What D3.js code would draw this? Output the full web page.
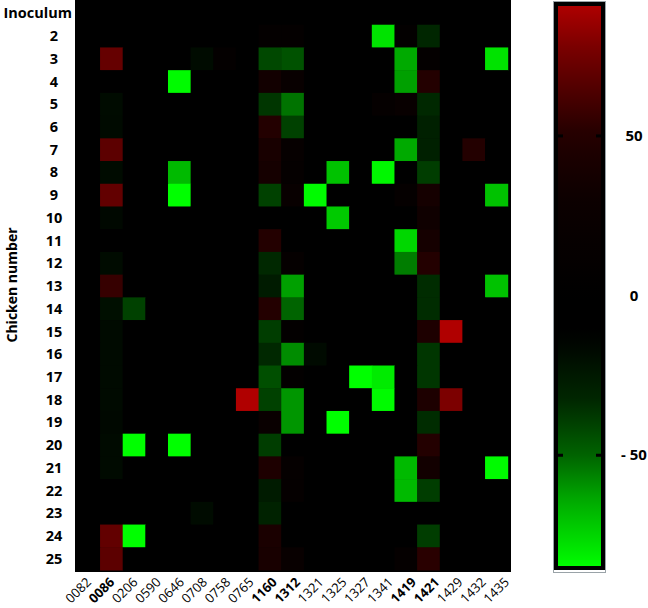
<!DOCTYPE html>
<html>
<head>
<meta charset="utf-8">
<script src="https://cdn.jsdelivr.net/npm/d3@7"></script>
<style>
  body { margin: 0; background: #fff; }
  text { font-family: "Open Sans", sans-serif; }
</style>
</head>
<body>
<svg id="chart" width="648" height="608"></svg>
<script>
var strains = ["0082","0086","0206","0590","0646","0708","0758","0765","1160","1312",
               "1321","1325","1327","1341","1419","1421","1429","1432","1435"];
var boldStrains = ["0086","1160","1312","1419","1421"];
var chickens = ["Inoculum","2","3","4","5","6","7","8","9","10","11","12","13",
                "14","15","16","17","18","19","20","21","22","23","24","25"];
var legendTicks = [50, 0, -50];

// one row per chicken, one value per strain (same order as strains)
var values = [
  [0,   0,   0, 0,   0,   0, 0,  0,   0,   0,   0,   0,   0,   0,   0,   0,  0,  0,   0],
  [0,   0,   0, 0,   0,   0, 0,  0,  10,  10,   0,   0,   0, -78,   8, -32,  0,  0,   0],
  [0,  71,   0, 0,   0, -18, 10, 0, -42, -45,   0,   0,   0,   0, -64,  10,  0,  0, -78],
  [0,   0,   0, 0, -84,   0, 0,  0,  35,  20,   0,   0,   0,   0, -62,  50,  0,  0,   0],
  [0, -18,   0, 0,   0,   0, 0,  0, -37, -53,   0,   0,   0,  12,  20, -33,  0,  0,   0],
  [0, -17,   0, 0,   0,   0, 0,  0,  50, -40,   0,   0,   0,   0,   0, -29,  0,  0,   0],
  [0,  68,   0, 0,   0,   0, 0,  0,  40,  15,   0,   0,   0,   0, -64, -29,  0, 50,   0],
  [0, -18,   0, 0, -68,   0, 0,  0,  38,  12,   0, -70,   0, -83,   0, -39,  0,  0,   0],
  [0,  70,   0, 0, -85,   0, 0,  0, -40,  20, -84,   0,   0,   0,  12,  38,  0,  0, -70],
  [0, -16,   0, 0,   0,   0, 0,  0,   0,   0,   0, -72,   0,   0,   0,  33,  0,  0,   0],
  [0,   0,   0, 0,   0,   0, 0,  0,  50,   0,   0,   0,   0,   0, -75,  38,  0,  0,   0],
  [0, -18,   0, 0,   0,   0, 0,  0, -33,  12,   0,   0,   0,   0, -55,  50,  0,  0,   0],
  [0,  56,   0, 0,   0,   0, 0,  0, -26, -62,   0,   0,   0,   0,   0, -34,  0,  0, -70],
  [0, -20, -40, 0,   0,   0, 0,  0,  50, -50,   0,   0,   0,   0,   0, -34,  0,  0,   0],
  [0, -17,   0, 0,   0,   0, 0,  0, -39,   8,   0,   0,   0,   0,   0,  45, 91,  0,   0],
  [0, -17,   0, 0,   0,   0, 0,  0, -33, -58, -17,   0,   0,   0,   0, -37,  0,  0,   0],
  [0, -17,   0, 0,   0,   0, 0,  0, -44,   8,   0,   0, -86, -80,   0, -37,  0,  0,   0],
  [0, -17,   0, 0,   0,   0, 0, 91, -40, -60,   0,   0,   0, -84,   0,  45, 78,  0,   0],
  [0, -16,   0, 0,   0,   0, 0,  0,  22, -60,   0, -85,   0,   0,   0, -34,  0,  0,   0],
  [0, -17, -86, 0, -86,   0, 0,  0, -39,   0,   0,   0,   0,   0,   0,  50,  0,  0,   0],
  [0, -17,   0, 0,   0,   0, 0,  0,  45,  12,   0,   0,   0,   0, -68,  35,  0,  0, -84],
  [0,   0,   0, 0,   0,   0, 0,  0, -26,  12,   0,   0,   0,   0, -68, -39,  0,  0,   0],
  [0,   0,   0, 0,   0, -18, 0,  0, -30,   0,   0,   0,   0,   0,   0,   0,  0,  0,   0],
  [0,  70, -86, 0,   0,   0, 0,  0,  42,   0,   0,   0,   0,   0,   0, -39,  0,  0,   0],
  [0,  68,   0, 0,   0,   0, 0,  0,  40,  20,   0,   0,   0,   0,  12,  52,  0,  0,   0]
];

var svg = d3.select("#chart");

var x = d3.scaleBand().domain(strains).range([77.4, 507.7]);
var y = d3.scaleBand().domain(chickens).range([2, 570]);
var xLab = d3.scalePoint().domain(strains).range([92, 510]);

var color = d3.scaleLinear()
  .domain([-85, -64, -50, -33, -12, 0, 30, 50, 61, 77, 91])
  .range(["#00ff00","#00aa00","#006400","#002800","#000000","#000000",
          "#0c0000","#230000","#460000","#780000","#b00000"])
  .clamp(true);

// black backdrop
svg.append("rect")
  .attr("x", 75).attr("y", 0)
  .attr("width", 436).attr("height", 572)
  .attr("fill", "#000");

var cells = [];
values.forEach(function(row, i) {
  row.forEach(function(v, j) {
    cells.push({chicken: chickens[i], strain: strains[j], value: v});
  });
});

svg.selectAll("rect.cell")
  .data(cells)
  .enter()
  .append("rect")
  .attr("class", "cell")
  .attr("x", function(d) { return x(d.strain); })
  .attr("y", function(d) { return y(d.chicken); })
  .attr("width", x.bandwidth() + 0.5)
  .attr("height", y.bandwidth() + 0.5)
  .attr("fill", function(d) { return color(d.value); });

// row labels
svg.selectAll("text.rowlab")
  .data(chickens)
  .enter()
  .append("text")
  .attr("class", "rowlab")
  .attr("x", function(d) { return d === "Inoculum" ? 72 : 54; })
  .attr("y", function(d) { return y(d) + y.bandwidth() / 2; })
  .attr("dy", "0.35em")
  .attr("text-anchor", function(d) { return d === "Inoculum" ? "end" : "middle"; })
  .style("font-weight", "bold")
  .attr("font-size", "14.5")
  .attr("fill", "#000")
  .text(function(d) { return d; });

svg.append("text")
  .attr("transform", "translate(12,285) rotate(-90)")
  .attr("text-anchor", "middle")
  .attr("dy", "0.35em")
  .style("font-weight", "bold")
  .attr("font-size", "14")
  .text("Chicken number");

// column labels
svg.selectAll("text.collab")
  .data(strains)
  .enter()
  .append("text")
  .attr("class", "collab")
  .attr("transform", function(d) { return "translate(" + xLab(d) + ",583) rotate(-45)"; })
  .attr("text-anchor", "end")
  .style("font-weight", function(d) { return boldStrains.indexOf(d) >= 0 ? "bold" : "normal"; })
  .attr("font-size", "13")
  .attr("fill", "#000")
  .text(function(d) { return d; });

// colour bar
var cb = d3.scaleLinear().domain([-85, 91]).range([567, 5]);

var grad = svg.append("defs").append("linearGradient")
  .attr("id", "cbgrad")
  .attr("x1", 0).attr("y1", 1).attr("x2", 0).attr("y2", 0);
d3.range(0, 41).forEach(function(k) {
  var v = -85 + k * (176 / 40);
  grad.append("stop")
    .attr("offset", (k / 40 * 100) + "%")
    .attr("stop-color", color(v));
});

svg.append("rect")
  .attr("x", 553.5).attr("y", 1.5)
  .attr("width", 52).attr("height", 571)
  .attr("fill", "none")
  .attr("stroke", "#9aa3a8")
  .attr("stroke-width", 1);

svg.append("rect")
  .attr("x", 556).attr("y", cb(91) - 1)
  .attr("width", 47).attr("height", cb(-85) - cb(91) + 2)
  .attr("fill", "url(#cbgrad)")
  .attr("stroke", "#000")
  .attr("stroke-width", 4);

legendTicks.forEach(function(t) {
  if (t !== 0) {
    svg.append("rect").attr("x", 557).attr("y", cb(t) - 1.5)
      .attr("width", 6).attr("height", 3).attr("fill", "#000");
    svg.append("rect").attr("x", 596).attr("y", cb(t) - 1.5)
      .attr("width", 6).attr("height", 3).attr("fill", "#000");
  }
  svg.append("text")
    .attr("x", 634)
    .attr("y", cb(t))
    .attr("dy", "0.35em")
    .attr("text-anchor", "middle")
    .style("font-weight", "bold")
    .attr("font-size", "15")
    .text(t < 0 ? "- " + Math.abs(t) : t);
});
</script>
</body>
</html>
